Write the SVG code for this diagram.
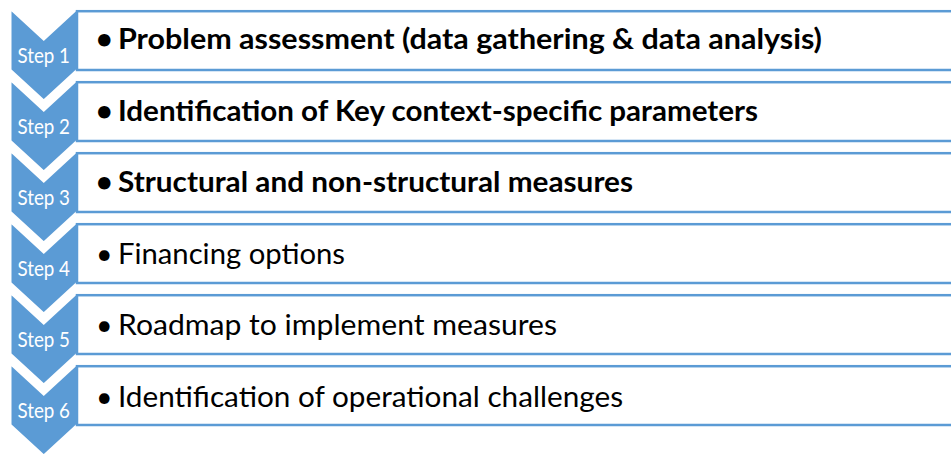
<svg xmlns="http://www.w3.org/2000/svg" width="951" height="455" viewBox="0 0 951 455">
  <style>
    .chev { fill: #5B9BD5; stroke: #FFFFFF; stroke-width: 3; stroke-linejoin: miter; }
    .box { fill: #FFFFFF; stroke: #5B9BD5; stroke-width: 2.5; }
    .step { font-family: Lato, "Open Sans", sans-serif; font-size: 21.5px; fill: #FFFFFF; }
    .item { font-family: Lato, "Open Sans", sans-serif; font-size: 28.5px; fill: #000000; }
    .bold { font-weight: bold; }
  </style>
  <defs>
    <!-- down-pointing chevron, origin at its top-left corner -->
    <path id="chevron" d="M10,0 L43.75,31 L77.5,0 L77.5,62 L43.75,93 L10,62 Z"/>
  </defs>

  <!-- connectors: none (the chevrons themselves carry the flow) -->
  <g id="connectors"/>

  <g id="step1">
    <use href="#chevron" class="chev" transform="translate(0,8)"/>
    <rect class="box" x="77" y="11.2" width="890" height="58.8"/>
    <text class="step" x="43.75" y="62.7" text-anchor="middle" textLength="52.5" lengthAdjust="spacingAndGlyphs">Step 1</text>
    <text class="item bold"><tspan x="96" y="49.3">•</tspan><tspan x="118" y="49.3" textLength="704" lengthAdjust="spacingAndGlyphs">Problem assessment (data gathering &amp; data analysis)</tspan></text>
  </g>

  <g id="step2">
    <use href="#chevron" class="chev" transform="translate(0,79)"/>
    <rect class="box" x="77" y="82.2" width="890" height="58.8"/>
    <text class="step" x="43.75" y="133.7" text-anchor="middle" textLength="52.5" lengthAdjust="spacingAndGlyphs">Step 2</text>
    <text class="item bold"><tspan x="96" y="120.8">•</tspan><tspan x="118" y="120.8" textLength="640" lengthAdjust="spacingAndGlyphs">Identification of Key context-specific parameters</tspan></text>
  </g>

  <g id="step3">
    <use href="#chevron" class="chev" transform="translate(0,150)"/>
    <rect class="box" x="77" y="153.2" width="890" height="58.8"/>
    <text class="step" x="43.75" y="204.7" text-anchor="middle" textLength="52.5" lengthAdjust="spacingAndGlyphs">Step 3</text>
    <text class="item bold"><tspan x="96" y="192.3">•</tspan><tspan x="118" y="192.3" textLength="515" lengthAdjust="spacingAndGlyphs">Structural and non-structural measures</tspan></text>
  </g>

  <g id="step4">
    <use href="#chevron" class="chev" transform="translate(0,221)"/>
    <rect class="box" x="77" y="224.2" width="890" height="58.8"/>
    <text class="step" x="43.75" y="275.7" text-anchor="middle" textLength="52.5" lengthAdjust="spacingAndGlyphs">Step 4</text>
    <text class="item"><tspan x="96" y="263.8">•</tspan><tspan x="118" y="263.8" textLength="227" lengthAdjust="spacingAndGlyphs">Financing options</tspan></text>
  </g>

  <g id="step5">
    <use href="#chevron" class="chev" transform="translate(0,292)"/>
    <rect class="box" x="77" y="295.2" width="890" height="58.8"/>
    <text class="step" x="43.75" y="346.7" text-anchor="middle" textLength="52.5" lengthAdjust="spacingAndGlyphs">Step 5</text>
    <text class="item"><tspan x="96" y="335.3">•</tspan><tspan x="118" y="335.3" textLength="439" lengthAdjust="spacingAndGlyphs">Roadmap to implement measures</tspan></text>
  </g>

  <g id="step6">
    <use href="#chevron" class="chev" transform="translate(0,363)"/>
    <rect class="box" x="77" y="366.2" width="890" height="58.8"/>
    <text class="step" x="43.75" y="417.5" text-anchor="middle" textLength="52.5" lengthAdjust="spacingAndGlyphs">Step 6</text>
    <text class="item"><tspan x="96" y="406.8">•</tspan><tspan x="118" y="406.8" textLength="505" lengthAdjust="spacingAndGlyphs">Identification of operational challenges</tspan></text>
  </g>
</svg>
